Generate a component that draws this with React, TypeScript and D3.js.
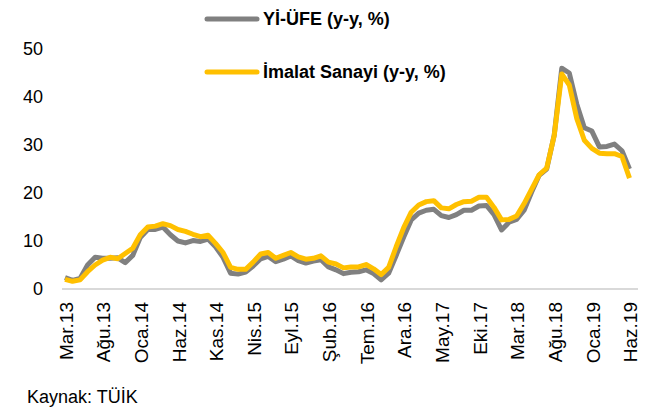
import { useEffect, useRef } from "react";
import * as d3 from "d3";

// Monthly categories, Mar.13 - Haz.19
const months = [
  "Mar.13", "Nis.13", "May.13", "Haz.13", "Tem.13", "Ağu.13", "Eyl.13", "Eki.13", "Kas.13", "Ara.13",
  "Oca.14", "Şub.14", "Mar.14", "Nis.14", "May.14", "Haz.14", "Tem.14", "Ağu.14", "Eyl.14", "Eki.14", "Kas.14", "Ara.14",
  "Oca.15", "Şub.15", "Mar.15", "Nis.15", "May.15", "Haz.15", "Tem.15", "Ağu.15", "Eyl.15", "Eki.15", "Kas.15", "Ara.15",
  "Oca.16", "Şub.16", "Mar.16", "Nis.16", "May.16", "Haz.16", "Tem.16", "Ağu.16", "Eyl.16", "Eki.16", "Kas.16", "Ara.16",
  "Oca.17", "Şub.17", "Mar.17", "Nis.17", "May.17", "Haz.17", "Tem.17", "Ağu.17", "Eyl.17", "Eki.17", "Kas.17", "Ara.17",
  "Oca.18", "Şub.18", "Mar.18", "Nis.18", "May.18", "Haz.18", "Tem.18", "Ağu.18", "Eyl.18", "Eki.18", "Kas.18", "Ara.18",
  "Oca.19", "Şub.19", "Mar.19", "Nis.19", "May.19", "Haz.19",
];

const tickLabels = [
  "Mar.13", "Ağu.13", "Oca.14", "Haz.14", "Kas.14", "Nis.15", "Eyl.15", "Şub.16",
  "Tem.16", "Ara.16", "May.17", "Eki.17", "Mar.18", "Ağu.18", "Oca.19", "Haz.19",
];

// Yİ-ÜFE (y-y, %)
const yiUfe = [
  2.4, 1.8, 2.2, 5.0, 6.6, 6.4, 6.4, 6.5, 5.5, 7.0,
  10.7, 12.4, 12.4, 12.9, 11.3, 10.0, 9.6, 10.1, 9.9, 10.4, 8.8, 6.6,
  3.3, 3.1, 3.5, 4.8, 6.3, 6.8, 5.7, 6.2, 6.9, 5.9, 5.4, 5.8,
  6.1, 4.6, 4.0, 3.2, 3.5, 3.6, 4.0, 3.2, 1.9, 3.3, 7.0, 10.8,
  14.4, 15.8, 16.4, 16.6, 15.3, 14.9, 15.5, 16.4, 16.4, 17.3, 17.4, 15.5,
  12.3, 13.9, 14.5, 16.4, 20.2, 23.7, 25.0, 32.1, 46.0, 45.0, 38.5, 33.6,
  32.9, 29.6, 29.7, 30.2, 28.8, 25.0,
];

// İmalat Sanayi (y-y, %)
const imalat = [
  2.0, 1.6, 1.9, 3.6, 5.0, 6.0, 6.6, 6.3, 7.4, 8.5,
  11.3, 12.9, 13.1, 13.6, 13.2, 12.4, 12.0, 11.4, 10.9, 11.2, 9.5, 7.6,
  4.5, 4.1, 4.1, 5.6, 7.3, 7.6, 6.4, 7.0, 7.6, 6.7, 6.2, 6.4,
  6.9, 5.6, 5.2, 4.4, 4.6, 4.6, 5.1, 4.2, 3.0, 4.5, 8.8, 12.8,
  16.0, 17.5, 18.2, 18.4, 16.9, 16.7, 17.6, 18.2, 18.3, 19.1, 19.1, 17.0,
  14.4, 14.5, 15.2, 17.8, 20.8, 23.8, 25.2, 32.0, 44.8, 42.5, 35.5, 31.0,
  29.3, 28.3, 28.2, 28.2, 27.6, 23.1,
];

const yTicks = [0, 10, 20, 30, 40, 50];

const series = [
  { name: "Yİ-ÜFE (y-y, %)", values: yiUfe, color: "#808080" },
  { name: "İmalat Sanayi (y-y, %)", values: imalat, color: "#FFC000" },
];

const FONT = "'Liberation Sans', Arial, sans-serif";

export default function App() {
  const svgRef = useRef<SVGSVGElement>(null);

  useEffect(() => {
    if (!svgRef.current) return;
    const svg = d3.select(svgRef.current);
    svg.selectAll("*").remove();

    const x = d3.scalePoint<string>().domain(months).range([65, 629.5]);
    const y = d3.scaleLinear().domain([0, 50]).range([289, 49]);

    // Baseline
    svg
      .append("line")
      .attr("x1", 62)
      .attr("x2", 638)
      .attr("y1", y(0))
      .attr("y2", y(0))
      .attr("stroke", "#d9d9d9")
      .attr("stroke-width", 2);

    // Y tick labels
    svg
      .append("g")
      .selectAll("text")
      .data(yTicks)
      .join("text")
      .attr("x", 43)
      .attr("y", (d) => y(d))
      .attr("dy", "0.35em")
      .attr("text-anchor", "end")
      .attr("font-family", FONT)
      .attr("font-size", 18)
      .attr("fill", "#000")
      .text((d) => d);

    // X tick labels (rotated)
    svg
      .append("g")
      .selectAll("text")
      .data(tickLabels)
      .join("text")
      .attr("transform", (d) => `translate(${(x(d) ?? 0) + 1},302) rotate(-90)`)
      .attr("dy", "0.35em")
      .attr("text-anchor", "end")
      .attr("font-family", FONT)
      .attr("font-size", 19)
      .attr("fill", "#000")
      .text((d) => d);

    // Lines
    const line = d3
      .line<number>()
      .x((_, i) => x(months[i]) ?? 0)
      .y((d) => y(d));

    series.forEach((s) => {
      svg
        .append("path")
        .datum(s.values)
        .attr("fill", "none")
        .attr("stroke", s.color)
        .attr("stroke-width", 5)
        .attr("stroke-linejoin", "round")
        .attr("d", line);
    });

    // Legend
    const legendY = [19, 72];
    series.forEach((s, i) => {
      const g = svg.append("g").attr("transform", `translate(0,${legendY[i]})`);
      g.append("line")
        .attr("x1", 207)
        .attr("x2", 257)
        .attr("stroke", s.color)
        .attr("stroke-width", 5)
        .attr("stroke-linecap", "round");
      g.append("text")
        .attr("x", 263)
        .attr("dy", "0.35em")
        .attr("font-family", FONT)
        .attr("font-weight", "bold")
        .attr("font-size", 18)
        .attr("fill", "#000")
        .text(s.name);
    });

    // Source
    svg
      .append("text")
      .attr("x", 27)
      .attr("y", 403)
      .attr("font-family", FONT)
      .attr("font-size", 18)
      .attr("fill", "#000")
      .text("Kaynak: TÜİK");
  }, []);

  return (
    <svg
      ref={svgRef}
      width={646}
      height={411}
      style={{ position: "absolute", left: 0, top: 0, background: "#fff" }}
    ></svg>
  );
}
